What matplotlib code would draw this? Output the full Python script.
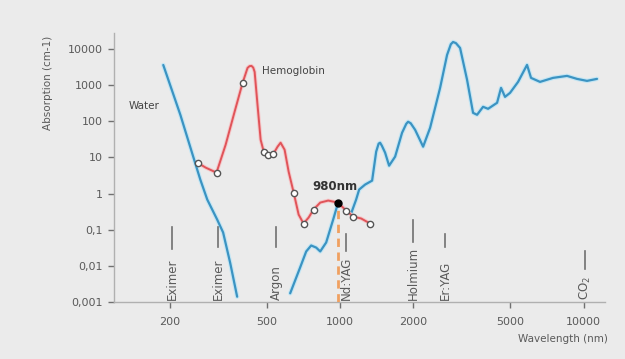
import numpy as np
import matplotlib
matplotlib.use('Agg')
import matplotlib.pyplot as plt

## Data
# water absorption, two visible pieces
water1_wl = [188, 221, 254, 267, 285, 313, 331, 354, 378]
water1_abs = [3600, 150, 7.1, 2.4, 0.68, 0.19, 0.084, 0.012, 0.0014]

water2_wl = [624, 686, 726, 761, 798, 829, 877, 937, 982, 1049, 1110, 1164, 1198,
             1267, 1354, 1407, 1440, 1460, 1485, 1531, 1590, 1683, 1797, 1870, 1903,
             1950, 2033, 2193, 2343, 2575, 2750, 2850, 2911, 2990, 3110, 3323, 3516,
             3652, 3865, 4052, 4412, 4581, 4757, 4988, 5381, 5857, 6083, 6622, 7489,
             8550, 9395, 10325, 11348]
water2_abs = [0.00174, 0.0091, 0.025, 0.0366, 0.032, 0.025, 0.0443, 0.191, 0.563, 0.36,
              0.28, 0.68, 1.29, 1.77, 2.28, 14.4, 24, 25.5, 21, 13.5, 5.9, 10.5, 48, 85,
              97, 88, 58, 19.8, 66, 839, 6830, 13500, 15600, 14500, 10660, 1395, 171,
              151, 251, 221, 324, 839, 473, 611, 1228, 3619, 1585, 1228, 1585, 1799,
              1486, 1309, 1486]

# hemoglobin
hb_wl = [260, 281, 311, 339, 369, 398, 417, 425, 433, 440, 446, 459, 472, 486, 504,
         533, 554, 570, 592, 615, 645, 676, 708, 743, 778, 829, 894, 980, 1059, 1132,
         1221, 1329]
hb_abs = [7.1, 5.2, 3.79, 22.4, 183, 1153, 2990, 3350, 3396, 3050, 2318, 251, 30.8,
          14.4, 11.9, 12.7, 19.8, 25.5, 16.3, 4.04, 1.06, 0.262, 0.148, 0.217, 0.36,
          0.563, 0.64, 0.563, 0.339, 0.231, 0.204, 0.148]
hb_mark_wl = [260, 311, 398, 486, 504, 533, 645, 708, 778, 1059, 1132, 1329]
hb_mark_abs = [7.1, 3.79, 1153, 14.4, 11.9, 12.7, 1.06, 0.148, 0.36, 0.339, 0.231, 0.148]

diode_wl = 980
diode_abs = 0.563

# lasers: name, wavelength, bar bottom/top
laser_names = ['Eximer', 'Eximer', 'Argon', 'Nd:YAG', 'Holmium', 'Er:YAG', 'CO$_2$']
laser_wl = [204, 316, 546, 1059, 1995, 2700, 10134]
laser_lo = [0.0284, 0.0323, 0.0323, 0.025, 0.0443, 0.0323, 0.008]
laser_hi = [0.1225, 0.1225, 0.1225, 0.0738, 0.191, 0.0738, 0.025]

xticks = [200, 500, 1000, 2000, 5000, 10000]
yticks = [0.001, 0.01, 0.1, 1, 10, 100, 1000, 10000]
ytick_labels = ['0,001', '0,01', '0,1', '1', '10', '100', '1000', '10000']

## Colours
bg = '#ebebeb'
blue = '#3b93c2'
red = '#e05459'
gray_txt = '#5a5a5a'

fig = plt.figure(figsize=(6.25, 3.59), dpi=100, facecolor=bg)
ax = fig.add_axes([114/625, 1-302/359, (605-114)/625, (302-33)/359])
ax.set_facecolor(bg)
ax.set_xscale('log')
ax.set_yscale('log')
ax.set_xlim(118, 12240)
ax.set_ylim(0.001, 27640)

# water, with a light halo
for wl, ab in [(water1_wl, water1_abs), (water2_wl, water2_abs)]:
    ax.plot(wl, ab, color='#c4e6f4', lw=3.2, solid_capstyle='round',
            solid_joinstyle='round', zorder=2)
    ax.plot(wl, ab, color=blue, lw=1.6, solid_capstyle='round',
            solid_joinstyle='round', zorder=3)

# hemoglobin
ax.plot(hb_wl, hb_abs, color='#f5c8ca', lw=2.8, solid_joinstyle='round', zorder=4)
ax.plot(hb_wl, hb_abs, color=red, lw=1.4, solid_joinstyle='round', zorder=5)
ax.plot(hb_mark_wl, hb_mark_abs, 'o', ms=4.5, mfc='white', mec='#555555', mew=1, zorder=6)

# 980 nm diode
ax.plot([diode_wl, diode_wl], [0.001, diode_abs], color='#f0a060', lw=2,
        dashes=(3, 2), zorder=4)
ax.plot(diode_wl, diode_abs, 'o', ms=5, mfc='black', mec='black', zorder=7)
ax.text(950, 1.55, '980nm', fontsize=8.5, fontweight='bold',
        color='#333333', ha='center', va='center', zorder=8)

# laser marks
for name, wl, lo, hi in zip(laser_names, laser_wl, laser_lo, laser_hi):
    ax.plot([wl, wl], [lo, hi], color='#707070', lw=1.2, zorder=2)
    ax.text(wl, 0.00112, name, rotation=90, fontsize=8.5, color=gray_txt,
            ha='center', va='bottom', zorder=2)

ax.text(136, 267, 'Water', fontsize=7.5, color='#444444', va='center')
ax.text(479, 2400, 'Hemoglobin', fontsize=7.5, color='#444444', va='center')

# axes styling
for s in ['top', 'right']:
    ax.spines[s].set_visible(False)
for s in ['left', 'bottom']:
    ax.spines[s].set_color('#b0b0b0')
    ax.spines[s].set_linewidth(1)

ax.set_xticks(xticks)
ax.set_xticklabels([str(t) for t in xticks])
ax.set_yticks(yticks)
ax.set_yticklabels(ytick_labels)
ax.minorticks_off()
ax.tick_params(axis='both', colors='#707070', labelcolor=gray_txt, labelsize=8,
               length=4, width=1)
ax.tick_params(axis='y', pad=4)
ax.tick_params(axis='x', pad=7)

fig.text(48/625, 1-83/359, 'Absorption (cm-1)', rotation=90, fontsize=7.5,
         color=gray_txt, ha='center', va='center')
fig.text(608/625, 1-339/359, 'Wavelength (nm)', fontsize=7.5, color=gray_txt,
         ha='right', va='center')

fig.savefig('out.png', dpi=100, facecolor=bg)
